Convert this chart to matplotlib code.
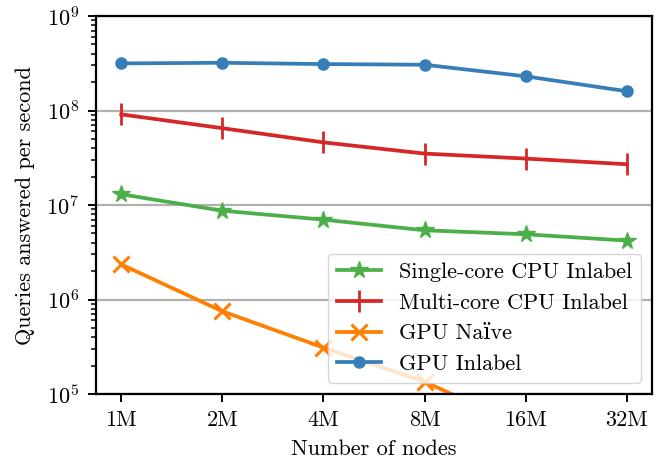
import matplotlib
matplotlib.use("Agg")
import matplotlib.pyplot as plt

plt.rcParams["font.family"] = ["cmr10", "DejaVu Serif"]
plt.rcParams["mathtext.fontset"] = "cm"
plt.rcParams["axes.formatter.use_mathtext"] = True

nodes = ["1M", "2M", "4M", "8M", "16M", "32M"]
single_cpu = [1.3e7, 8.7e6, 7.0e6, 5.4e6, 4.9e6, 4.2e6]
multi_cpu = [9.1e7, 6.5e7, 4.6e7, 3.5e7, 3.1e7, 2.7e7]
gpu_naive = [2.35e6, 7.5e5, 3.1e5, 1.35e5, 4.4e4, 1.5e4]
gpu_inlabel = [3.15e8, 3.2e8, 3.1e8, 3.05e8, 2.3e8, 1.6e8]

FS = 16

fig = plt.figure(figsize=(6.67, 4.68), dpi=100)
ax = fig.add_axes([0.1439, 0.1581, 0.9775 - 0.1439, 0.9658 - 0.1581])

x = range(len(nodes))
ax.plot(x, single_cpu, color="#4daf4a", lw=2.7, marker="*", ms=13,
        label="Single-core CPU Inlabel")
ax.plot(x, multi_cpu, color="#d62728", lw=2.7, marker="|", ms=16, mew=2,
        label="Multi-core CPU Inlabel")
ax.plot(x, gpu_naive, color="#ff7f00", lw=2.7, marker="x", ms=12, mew=2.2,
        label="GPU Naïve")
ax.plot(x, gpu_inlabel, color="#377eb8", lw=2.7, marker="o", ms=8,
        label="GPU Inlabel")

ax.set_yscale("log")
ax.set_ylim(1e5, 1e9)
ax.set_xticks(list(x))
ax.set_xticklabels(nodes)
ax.tick_params(labelsize=FS, length=6, width=1.4, pad=6)
ax.tick_params(which="minor", length=3.5, width=1.1)
ax.grid(axis="y", which="major", color="#b0b0b0", lw=1.6)
ax.set_axisbelow(True)
for s in ax.spines.values():
    s.set_linewidth(1.6)
ax.set_xlabel("Number of nodes", fontsize=FS, labelpad=7)
ax.set_ylabel("Queries answered per second", fontsize=FS, labelpad=8)
ax.legend(loc="lower right", fontsize=FS)

fig.savefig("out.png", dpi=100)
